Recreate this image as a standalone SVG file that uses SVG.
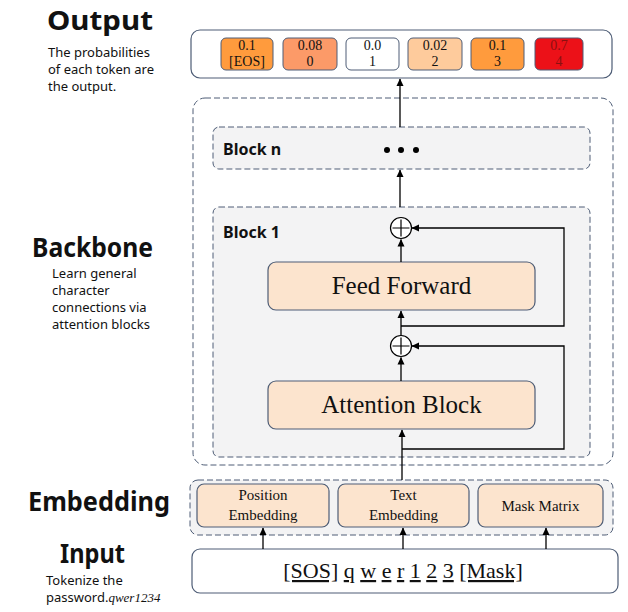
<svg xmlns="http://www.w3.org/2000/svg" width="628" height="612" viewBox="0 0 628 612">
<style>
.lbl{font-family:"Noto Sans","Open Sans",sans-serif;font-weight:bold;fill:#111;font-size:26px}
.desc{font-family:"Noto Sans","Open Sans",sans-serif;font-size:13px;fill:#111}
.ser{font-family:"Liberation Serif","Times New Roman",serif;fill:#111}
.box{stroke:#4E5D76;stroke-width:1.2}
.dash{stroke:#4E5D76;stroke-width:1;stroke-dasharray:6,3;fill:#F3F3F4}
.peach{fill:#FCE4CE;stroke:#4E5D76;stroke-width:1.2}
.tok{stroke:#4E5D76;stroke-width:1}
.ln{stroke:#000;stroke-width:1.3;fill:none}
.bt{font-family:"Noto Sans","Open Sans",sans-serif;font-weight:bold;font-size:16px;fill:#111}
</style>
<defs>
<marker id="ah" markerWidth="8" markerHeight="8" refX="7" refY="4" orient="auto" markerUnits="userSpaceOnUse">
<path d="M0,0.5 L7.5,4 L0,7.5 z" fill="#000"/>
</marker>
</defs>
<rect width="628" height="612" fill="#fff"/>

<g id="labels">
<text class="lbl" x="47" y="30" textLength="106" lengthAdjust="spacingAndGlyphs">Output</text>
<text class="desc" x="48" y="57">The probabilities</text>
<text class="desc" x="48" y="74">of each token are</text>
<text class="desc" x="48" y="91">the output.</text>
<text class="lbl" x="32" y="257" textLength="121" lengthAdjust="spacingAndGlyphs">Backbone</text>
<text class="desc" x="52" y="278">Learn general</text>
<text class="desc" x="52" y="295">character</text>
<text class="desc" x="52" y="312">connections via</text>
<text class="desc" x="52" y="329">attention blocks</text>
<text class="lbl" x="28" y="511" textLength="142" lengthAdjust="spacingAndGlyphs">Embedding</text>
<text class="lbl" x="60" y="563" textLength="65" lengthAdjust="spacingAndGlyphs">Input</text>
<text class="desc" x="46" y="585">Tokenize the</text>
<text class="desc" x="46" y="602">password.<tspan font-family="Liberation Serif,serif" font-style="italic">qwer1234</tspan></text>
</g>

<g id="output">
<rect class="box" x="191" y="30" width="421" height="48" rx="9" fill="#fff"/>
<g id="tokens" text-anchor="middle" font-size="14">
<rect class="tok" x="221" y="38" width="52" height="32" rx="5" fill="#FF9B3D"/>
<text class="ser" x="247" y="50">0.1</text><text class="ser" x="247" y="66">[EOS]</text>
<rect class="tok" x="283" y="38" width="54" height="32" rx="5" fill="#FC9A68"/>
<text class="ser" x="310" y="50">0.08</text><text class="ser" x="310" y="66">0</text>
<rect class="tok" x="346" y="38" width="53" height="32" rx="5" fill="#fff"/>
<text class="ser" x="372.5" y="50">0.0</text><text class="ser" x="372.5" y="66">1</text>
<rect class="tok" x="408" y="38" width="54" height="32" rx="5" fill="#FECB9C"/>
<text class="ser" x="435" y="50">0.02</text><text class="ser" x="435" y="66">2</text>
<rect class="tok" x="471" y="38" width="53" height="32" rx="5" fill="#FF9B3D"/>
<text class="ser" x="497.5" y="50">0.1</text><text class="ser" x="497.5" y="66">3</text>
<rect class="tok" x="535" y="38" width="48" height="32" rx="5" fill="#EC1118"/>
<text class="ser" x="559" y="50" style="fill:#8A1010">0.7</text><text class="ser" x="559" y="66" style="fill:#8A1010">4</text>
</g>
</g>

<g id="backbone">
<rect class="dash" x="193" y="98" width="420" height="367" rx="12" style="fill:#fff"/>
</g>
<g id="block-n">
<rect class="dash" x="213" y="127" width="377" height="42" rx="6"/>
<text class="bt" x="223" y="155">Block n</text>
<circle cx="387" cy="150" r="3" fill="#000"/>
<circle cx="401" cy="150" r="3" fill="#000"/>
<circle cx="416" cy="150" r="3" fill="#000"/>
</g>
<g id="block-1">
<rect class="dash" x="213" y="207" width="377" height="250" rx="6"/>
<text class="bt" x="223" y="238">Block 1</text>
</g>
<g id="feed-forward">
<rect class="peach" x="268" y="262" width="267" height="48" rx="8"/>
<text class="ser" x="401.5" y="294" font-size="25" text-anchor="middle">Feed Forward</text>
</g>
<g id="attention-block">
<rect class="peach" x="268" y="381" width="267" height="48" rx="8"/>
<text class="ser" x="401.5" y="413" font-size="25" text-anchor="middle">Attention Block</text>
</g>
<g id="add-1">
<circle cx="401" cy="228" r="10.5" fill="#fff" stroke="#000" stroke-width="1.2"/>
<path d="M401,219.5 V236.5 M392.5,228 H409.5" stroke="#000" stroke-width="1.2"/>
</g>
<g id="add-2">
<circle cx="401" cy="346" r="10.5" fill="#fff" stroke="#000" stroke-width="1.2"/>
<path d="M401,337.5 V354.5 M392.5,346 H409.5" stroke="#000" stroke-width="1.2"/>
</g>

<g id="embedding">
<rect class="dash" x="190" y="480" width="423" height="55" rx="8"/>
<g id="position-embedding">
<rect class="peach" x="197" y="484" width="132" height="43" rx="7"/>
<text class="ser" x="263" y="500" font-size="15" text-anchor="middle">Position</text>
<text class="ser" x="263" y="520" font-size="15" text-anchor="middle">Embedding</text>
</g>
<g id="text-embedding">
<rect class="peach" x="338" y="484" width="131" height="43" rx="7"/>
<text class="ser" x="403.5" y="500" font-size="15" text-anchor="middle">Text</text>
<text class="ser" x="403.5" y="520" font-size="15" text-anchor="middle">Embedding</text>
</g>
<g id="mask-matrix">
<rect class="peach" x="478" y="484" width="125" height="43" rx="7"/>
<text class="ser" x="540.5" y="511" font-size="15" text-anchor="middle">Mask Matrix</text>
</g>
</g>

<g id="input">
<rect class="box" x="192" y="549" width="426" height="44" rx="8" fill="#fff"/>
<text class="ser" x="403" y="578" font-size="22" text-anchor="middle"><tspan text-decoration="underline">[SOS]</tspan> <tspan text-decoration="underline">q</tspan> <tspan text-decoration="underline">w</tspan> <tspan text-decoration="underline">e</tspan> <tspan text-decoration="underline">r</tspan> <tspan text-decoration="underline">1</tspan> <tspan text-decoration="underline">2</tspan> <tspan text-decoration="underline">3</tspan> <tspan text-decoration="underline">[Mask]</tspan></text>
</g>

<g id="connectors">
<line class="ln" x1="400" y1="127" x2="400" y2="79" marker-end="url(#ah)"/>
<line class="ln" x1="400" y1="207" x2="400" y2="170" marker-end="url(#ah)"/>
<line class="ln" x1="401" y1="262" x2="401" y2="239.5" marker-end="url(#ah)"/>
<line class="ln" x1="401" y1="335.5" x2="401" y2="311" marker-end="url(#ah)"/>
<polyline class="ln" points="401,326 564,326 564,228 412,228" marker-end="url(#ah)"/>
<line class="ln" x1="401" y1="381" x2="401" y2="357.5" marker-end="url(#ah)"/>
<polyline class="ln" points="402,449 564,449 564,346 412,346" marker-end="url(#ah)"/>
<line class="ln" x1="402" y1="480" x2="402" y2="430" marker-end="url(#ah)"/>
<line class="ln" x1="263" y1="549" x2="263" y2="528" marker-end="url(#ah)"/>
<line class="ln" x1="403" y1="549" x2="403" y2="528" marker-end="url(#ah)"/>
<line class="ln" x1="546" y1="549" x2="546" y2="528" marker-end="url(#ah)"/>
</g>
</svg>
